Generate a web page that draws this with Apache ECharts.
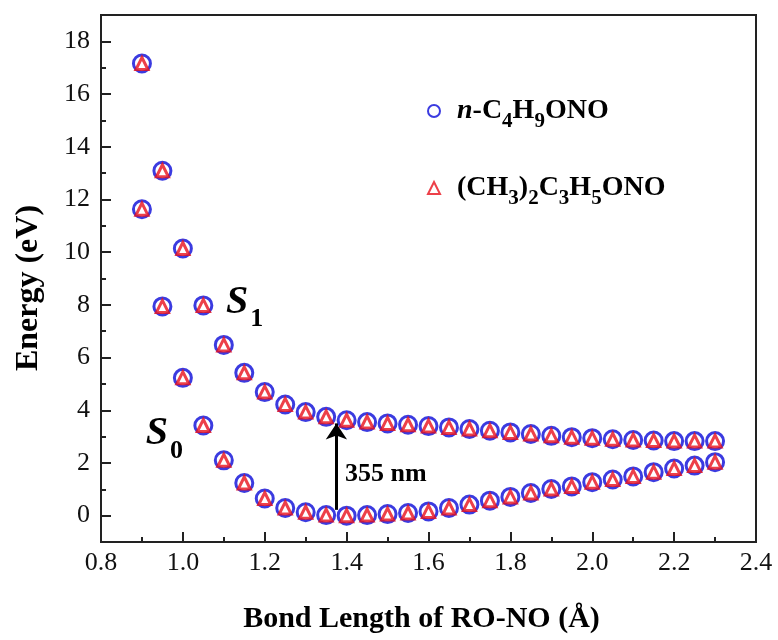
<!DOCTYPE html>
<html>
<head>
<meta charset="utf-8">
<script src="https://cdn.jsdelivr.net/npm/echarts@6/dist/echarts.min.js"></script>
<style>
  html, body { margin: 0; padding: 0; background: #fff; }
  #chart { width: 778px; height: 640px; }
</style>
</head>
<body>
<div id="chart"></div>
<script>
// bond length of RO-NO (Å)
var bondLength = [0.90, 0.95, 1.00, 1.05, 1.10, 1.15, 1.20, 1.25, 1.30, 1.35,
  1.40, 1.45, 1.50, 1.55, 1.60, 1.65, 1.70, 1.75, 1.80, 1.85,
  1.90, 1.95, 2.00, 2.05, 2.10, 2.15, 2.20, 2.25, 2.30];

// n-C4H9ONO
var nButylS0 = [11.63, 7.94, 5.23, 3.42, 2.10, 1.24, 0.65, 0.29, 0.13, 0.02,
  0.00, 0.02, 0.06, 0.10, 0.16, 0.29, 0.42, 0.57, 0.71, 0.86,
  1.01, 1.11, 1.27, 1.37, 1.49, 1.65, 1.79, 1.90, 2.03];
var nButylS1 = [17.16, 13.09, 10.14, 7.98, 6.48, 5.42, 4.69, 4.22, 3.93, 3.75,
  3.62, 3.55, 3.50, 3.45, 3.40, 3.35, 3.29, 3.22, 3.16, 3.10,
  3.03, 2.98, 2.94, 2.90, 2.87, 2.85, 2.83, 2.83, 2.83];

// (CH3)2C3H5ONO
var isoS0 = [11.63, 7.94, 5.23, 3.42, 2.10, 1.24, 0.65, 0.29, 0.13, 0.02,
  0.00, 0.02, 0.06, 0.10, 0.16, 0.29, 0.42, 0.57, 0.71, 0.86,
  1.01, 1.11, 1.27, 1.37, 1.49, 1.65, 1.79, 1.90, 2.03];
var isoS1 = [17.16, 13.09, 10.14, 7.98, 6.48, 5.42, 4.69, 4.22, 3.93, 3.75,
  3.62, 3.55, 3.50, 3.45, 3.40, 3.35, 3.29, 3.22, 3.16, 3.10,
  3.03, 2.98, 2.94, 2.90, 2.87, 2.85, 2.83, 2.83, 2.83];

// tick values
var yMajorTicks = [0, 2, 4, 6, 8, 10, 12, 14, 16, 18];
var yMinorTicks = [-1, 1, 3, 5, 7, 9, 11, 13, 15, 17, 19];

var seriesNames = ['n-C4H9ONO', '(CH3)2C3H5ONO'];

function pairs(xs, ys) {
  return xs.map(function (x, i) { return [x, ys[i]]; });
}

var serif = "'Liberation Serif', 'DejaVu Serif', serif";
var blue = '#0a0ad8';
var red = '#e8101c';

var circleStyle = { color: '#fff', borderColor: blue, borderWidth: 3 };
var triStyle = { color: '#fff', borderColor: red, borderWidth: 3 };

var subRich = {
  sp: { width: 12, fontSize: 28 },
  it: { fontFamily: serif, fontWeight: 'bold', fontStyle: 'italic', fontSize: 28, lineHeight: 32, color: '#000' },
  b: { fontFamily: serif, fontWeight: 'bold', fontSize: 28, lineHeight: 32, color: '#000' },
  sub: { fontFamily: serif, fontWeight: 'bold', fontSize: 21, lineHeight: 20, padding: [16, 0, 0, 0], verticalAlign: 'top', color: '#000' }
};

var tickText = { fontFamily: serif, fontSize: 26, color: '#111' };

var myChart = echarts.init(document.getElementById('chart'));

var option = {
  animation: false,
  backgroundColor: '#fff',
  textStyle: { fontFamily: serif },
  grid: {
    left: 101, right: 22, top: 15, bottom: 98,
    show: true, borderColor: '#222', borderWidth: 2
  },
  legend: {
    orient: 'vertical',
    left: 422,
    top: 90,
    itemGap: 40,
    itemWidth: 12,
    itemHeight: 12,
    data: [
      { name: seriesNames[0], icon: 'circle', itemStyle: { color: '#fff', borderColor: blue, borderWidth: 2 } },
      { name: seriesNames[1], icon: 'triangle', itemStyle: { color: '#fff', borderColor: red, borderWidth: 2 } }
    ],
    formatter: function (name) {
      if (name === seriesNames[0]) {
        return '{sp| }{it|n}{b|-C}{sub|4}{b|H}{sub|9}{b|ONO}';
      }
      return '{sp| }{b|(CH}{sub|3}{b|)}{sub|2}{b|C}{sub|3}{b|H}{sub|5}{b|ONO}';
    },
    textStyle: { rich: subRich }
  },
  xAxis: {
    type: 'value',
    min: 0.8,
    max: 2.4,
    interval: 0.2,
    name: 'Bond Length of RO-NO (Å)',
    nameLocation: 'middle',
    nameGap: 62,
    nameTextStyle: { fontFamily: serif, fontWeight: 'bold', fontSize: 30, color: '#000', padding: [0, 14, 0, 0] },
    axisLine: { onZero: false, lineStyle: { color: '#222', width: 2 } },
    axisTick: { inside: true, length: 10, lineStyle: { color: '#222', width: 2 } },
    minorTick: { show: true, splitNumber: 2, length: 5, lineStyle: { color: '#222', width: 2 } },
    axisLabel: {
      margin: 8,
      formatter: function (v) { return '{v|' + v.toFixed(1) + '}'; },
      rich: { v: tickText }
    },
    splitLine: { show: false }
  },
  yAxis: [{
    type: 'value',
    min: -1,
    max: 19,
    name: 'Energy (eV)',
    nameLocation: 'middle',
    nameGap: 56,
    nameTextStyle: { fontFamily: serif, fontWeight: 'bold', fontSize: 32, color: '#000', padding: [0, 19, 0, 0] },
    axisLine: { onZero: false, lineStyle: { color: '#222', width: 2 } },
    axisTick: { inside: true, length: 10, customValues: yMajorTicks, lineStyle: { color: '#222', width: 2 } },
    axisLabel: {
      margin: 11,
      customValues: yMajorTicks,
      formatter: function (v) { return '{v|' + v + '}'; },
      rich: { v: tickText }
    },
    splitLine: { show: false }
  }, {
    type: 'value',
    min: -1,
    max: 19,
    position: 'left',
    axisLine: { show: false },
    axisTick: { inside: true, length: 5, customValues: yMinorTicks, lineStyle: { color: '#222', width: 2 } },
    axisLabel: { show: false },
    splitLine: { show: false }
  }],
  series: [{
    name: seriesNames[0],
    type: 'scatter',
    symbol: 'circle',
    symbolSize: 17,
    itemStyle: circleStyle,
    data: pairs(bondLength, nButylS0)
  }, {
    name: seriesNames[0],
    type: 'scatter',
    symbol: 'circle',
    symbolSize: 17,
    itemStyle: circleStyle,
    data: pairs(bondLength, nButylS1)
  }, {
    name: seriesNames[1],
    type: 'scatter',
    symbol: 'triangle',
    symbolSize: 12,
    itemStyle: triStyle,
    data: pairs(bondLength, isoS0)
  }, {
    name: seriesNames[1],
    type: 'scatter',
    symbol: 'triangle',
    symbolSize: 12,
    itemStyle: triStyle,
    data: pairs(bondLength, isoS1),
    // annotations: state labels and the 355 nm excitation arrow
    markPoint: {
      symbol: 'circle',
      symbolSize: 0,
      silent: true,
      label: {
        show: true,
        position: 'inside',
        rich: {
          s: { fontFamily: serif, fontWeight: 'bold', fontStyle: 'italic', fontSize: 40, lineHeight: 40, color: '#000', verticalAlign: 'top' },
          n: { fontFamily: serif, fontWeight: 'bold', fontSize: 26, lineHeight: 24, padding: [24, 0, 0, 2], verticalAlign: 'top', color: '#000' },
          t: { fontFamily: serif, fontWeight: 'bold', fontSize: 26, color: '#000' }
        }
      },
      data: [
        { coord: [1.151, 8.1], label: { formatter: '{s|S}{n|1}' } },
        { coord: [0.955, 3.1], label: { formatter: '{s|S}{n|0}' } },
        { coord: [1.396, 1.56], label: { formatter: '{t|355 nm}', align: 'left' } }
      ]
    },
    markLine: {
      silent: true,
      symbol: ['none', 'arrow'],
      symbolSize: 16,
      label: { show: false },
      lineStyle: { color: '#000', width: 3, type: 'solid' },
      data: [[{ coord: [1.375, 0.22] }, { coord: [1.375, 3.5] }]]
    }
  }]
};

myChart.setOption(option);
window.addEventListener('resize', function () {
  myChart.resize();
});
</script>
</body>
</html>
